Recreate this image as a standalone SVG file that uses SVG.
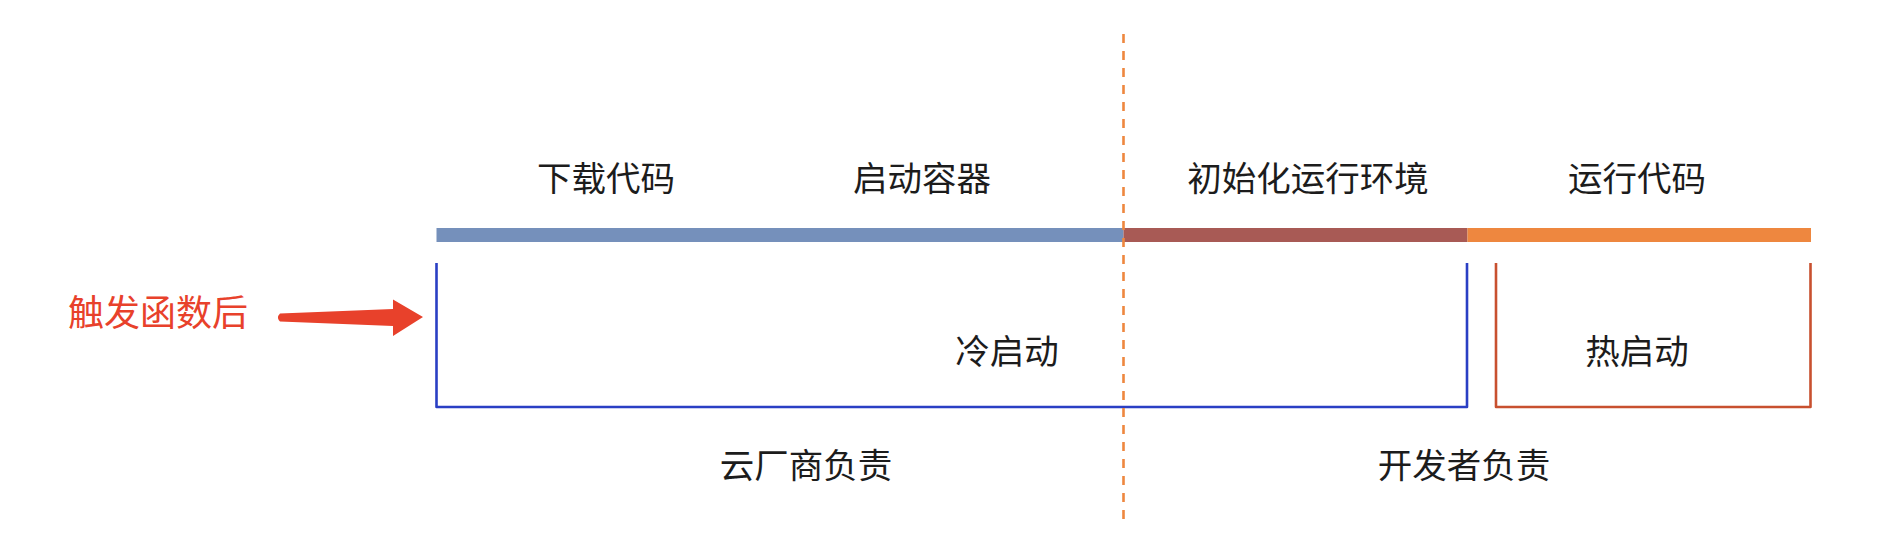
<svg xmlns="http://www.w3.org/2000/svg" width="1886" height="538" viewBox="0 0 1886 538">
<style>
.t{font-family:"Noto Sans CJK SC","Noto Sans",sans-serif;font-size:34.5px;fill:#1c1c1c;text-anchor:middle;dominant-baseline:central}
.r{fill:#e8412b;font-size:36px}
.br{fill:none;stroke-width:2.6;stroke-linejoin:round}
</style>
<rect width="1886" height="538" fill="#ffffff"/>
<g id="bars">
<rect x="436.5" y="228" width="687" height="14" fill="#7590bb"/>
<rect x="1123.5" y="228" width="344" height="14" fill="#a85a55"/>
<rect x="1467.5" y="228" width="343.5" height="14" fill="#ee873f"/>
</g>
<g id="labels-top">
<text class="t" x="606" y="175.5">下载代码</text>
<text class="t" x="922" y="175.5">启动容器</text>
<text class="t" x="1308" y="175.5">初始化运行环境</text>
<text class="t" x="1637" y="175.5">运行代码</text>
</g>
<g id="cold">
<path class="br" stroke="#2a3fc4" d="M436.5,263 V407 H1467 V263"/>
<text class="t" x="1007" y="348.5">冷启动</text>
</g>
<g id="hot">
<path class="br" stroke="#c8502f" d="M1496,263 V407 H1810.5 V263"/>
<text class="t" x="1637" y="348.5">热启动</text>
</g>
<g id="trigger">
<text class="t r" x="158" y="309.5">触发函数后</text>
</g>
<g id="connectors">
<path d="M280,313.5 L393,309 L393,299.5 L423,317 L393,336 L393,326 L280,321.5 Q276,317.5 280,313.5 Z" fill="#e8412b"/>
<line x1="1123.5" y1="34" x2="1123.5" y2="520" stroke="#ee873f" stroke-width="2.6" stroke-dasharray="9,8"/>
</g>
<g id="labels-bottom">
<text class="t" x="806" y="462.5">云厂商负责</text>
<text class="t" x="1464" y="462.5">开发者负责</text>
</g>
</svg>
